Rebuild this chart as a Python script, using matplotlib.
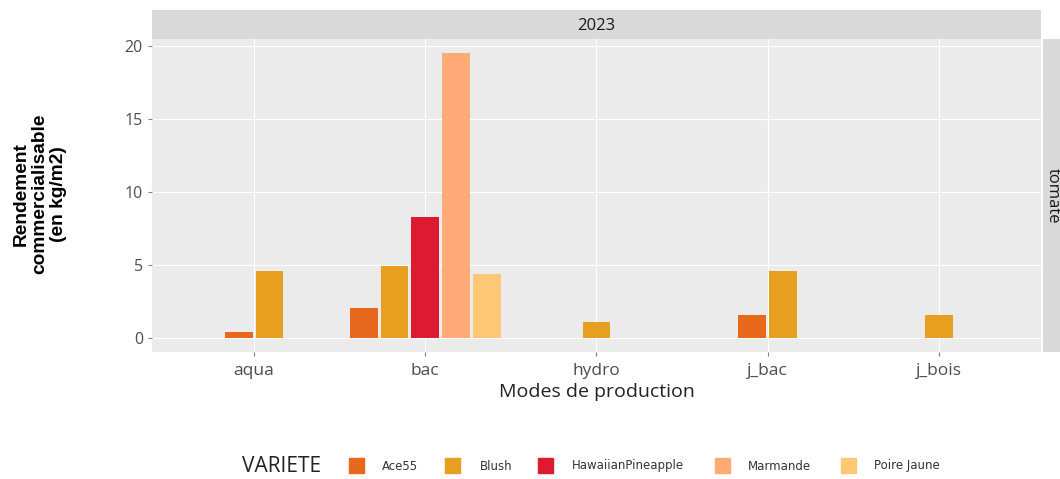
import matplotlib.pyplot as plt
from matplotlib.patches import Rectangle

modes = ["aqua", "bac", "hydro", "j_bac", "j_bois"]
varietes = ["Ace55", "Blush", "HawaiianPineapple", "Marmande", "Poire Jaune"]
couleurs = ["#E8691E", "#E69F1E", "#DC1A32", "#FDAA76", "#FDC876"]

# rendement par mode (None = pas de donnée)
rendement = {
    "Ace55":             [0.4, 2.05, None, 1.6, None],
    "Blush":             [4.6, 4.95, 1.1, 4.6, 1.6],
    "HawaiianPineapple": [None, 8.25, None, None, None],
    "Marmande":          [None, 19.5, None, None, None],
    "Poire Jaune":       [None, 4.35, None, None, None],
}

W, H = 1060, 479
fig = plt.figure(figsize=(W / 100, H / 100), dpi=100)
plt.rcParams['font.family'] = ['Open Sans', 'DejaVu Sans']

def box(x0, y0, x1, y1):
    return [x0 / W, 1 - y1 / H, (x1 - x0) / W, (y1 - y0) / H]

ax = fig.add_axes(box(152, 39, 1041, 352))
ax.set_facecolor("#EBEBEB")
for s in ax.spines.values():
    s.set_visible(False)

slot = 0.18
bw = 0.162
for i, m in enumerate(modes):
    present = [v for v in varietes if rendement[v][i] is not None]
    n = len(present)
    for k, v in enumerate(present):
        x = (i + 1) + (k - (n - 1) / 2) * slot
        ax.bar(x, rendement[v][i], width=bw, color=couleurs[varietes.index(v)],
               zorder=3)

ax.set_xlim(0.404, 5.596)
ax.set_ylim(-0.96, 20.45)
ax.set_xticks(range(1, 6))
ax.set_xticklabels(modes)
ax.set_yticks([0, 5, 10, 15, 20])
ax.grid(True, color="white", linewidth=0.8, zorder=0)
ax.set_axisbelow(True)
ax.tick_params(axis="both", colors="#7F7F7F", labelcolor="#4D4D4D",
               labelsize=11.5, length=3, width=0.8)
ax.tick_params(axis="x", labelsize=12.5, pad=5)
ax.set_xlabel("Modes de production", fontsize=14, color="#222222", labelpad=3)

fig.text(40 / W, 1 - 194 / H, "Rendement\ncommercialisable\n(en kg/m2)",
         rotation=90, ha="center", va="center", fontsize=13.8,
         fontweight="bold", color="black", linespacing=1.15,
         family="Liberation Sans")

# bandeaux de facette
st = fig.add_axes(box(152, 10, 1041, 39))
st.set_facecolor("#D9D9D9")
st.set_xticks([]); st.set_yticks([])
for s in st.spines.values():
    s.set_visible(False)
st.text(0.5, 0.45, "2023", ha="center", va="center", fontsize=12,
        color="#1A1A1A", transform=st.transAxes)

sr = fig.add_axes(box(1043, 39, 1062, 352))
sr.set_facecolor("#D9D9D9")
sr.set_xticks([]); sr.set_yticks([])
for s in sr.spines.values():
    s.set_visible(False)
sr.text(0.5, 0.5, "tomate", ha="center", va="center", fontsize=12,
        rotation=-90, color="#1A1A1A", transform=sr.transAxes)

# légende
fig.text(242 / W, 1 - 466 / H, "VARIETE", ha="left", va="center",
         fontsize=15, color="#222222")
lx = [349, 445, 538, 715, 841]
tx = [382, 480, 572, 748, 874]
for x0, t0, v, c in zip(lx, tx, varietes, couleurs):
    fig.patches.append(Rectangle((x0 / W, 1 - 473 / H), 15 / W, 15 / H,
                                 transform=fig.transFigure, color=c))
    fig.text(t0 / W, 1 - 466 / H, v, ha="left", va="center",
             fontsize=8.5, color="#333333", family="DejaVu Sans")

fig.savefig("out.png", dpi=100)
